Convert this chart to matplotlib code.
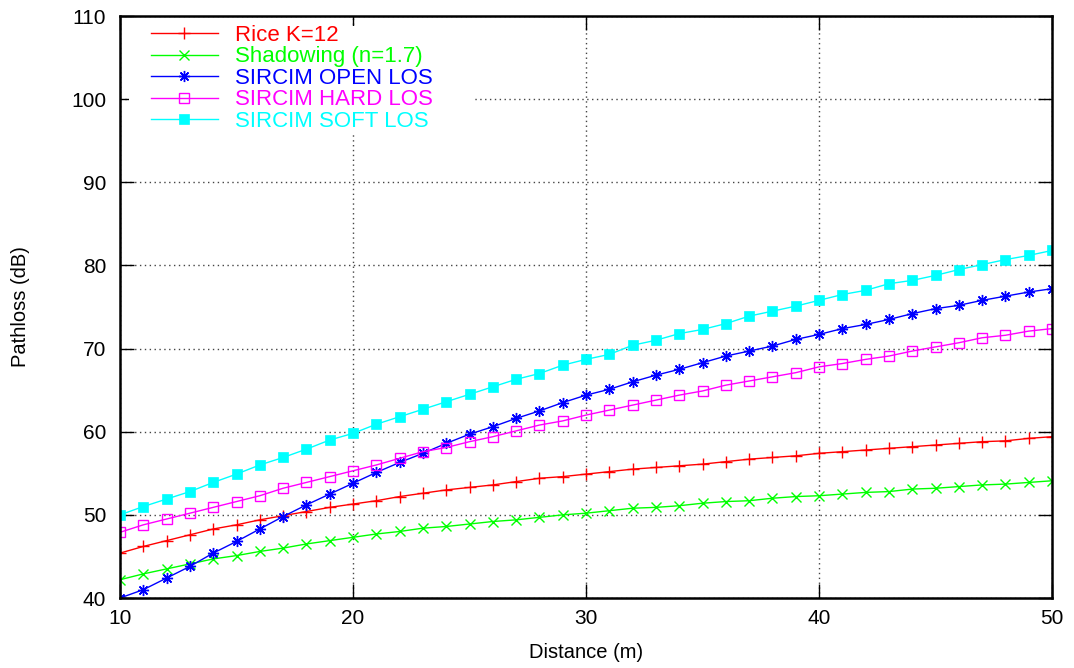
import numpy as np
import matplotlib
matplotlib.use('Agg')
import matplotlib.pyplot as plt
from matplotlib.patches import Rectangle

plt.rcParams['font.family'] = ['Liberation Sans', 'DejaVu Sans']

# distance (m)
distance = list(range(10, 51))

# pathloss values (dB)
rice_k12 = [45.4, 46.2, 46.9, 47.6, 48.3, 48.8, 49.4, 49.9, 50.4, 50.9,
            51.3, 51.7, 52.2, 52.6, 53.0, 53.3, 53.6, 54.0, 54.4, 54.6,
            54.9, 55.2, 55.5, 55.7, 55.9, 56.1, 56.4, 56.7, 56.9, 57.1,
            57.4, 57.6, 57.8, 58.0, 58.2, 58.4, 58.6, 58.8, 58.9, 59.2, 59.4]
shadowing = [42.2, 42.9, 43.5, 44.1, 44.7, 45.1, 45.6, 46.0, 46.5, 46.9,
             47.3, 47.7, 48.0, 48.4, 48.6, 48.9, 49.2, 49.4, 49.7, 50.0,
             50.2, 50.5, 50.8, 50.9, 51.1, 51.4, 51.6, 51.7, 52.0, 52.2,
             52.3, 52.5, 52.7, 52.8, 53.1, 53.2, 53.4, 53.6, 53.7, 53.9, 54.1]
sircim_open = [40.0, 41.0, 42.4, 43.8, 45.4, 46.8, 48.3, 49.8, 51.2, 52.5,
               53.8, 55.1, 56.3, 57.4, 58.6, 59.7, 60.6, 61.6, 62.5, 63.5,
               64.4, 65.1, 66.0, 66.8, 67.5, 68.3, 69.1, 69.7, 70.3, 71.1,
               71.7, 72.4, 72.9, 73.5, 74.2, 74.8, 75.2, 75.8, 76.3, 76.8, 77.2]
sircim_hard = [47.9, 48.8, 49.5, 50.2, 50.9, 51.6, 52.3, 53.2, 53.9, 54.6,
               55.3, 56.0, 56.8, 57.6, 58.1, 58.8, 59.4, 60.1, 60.8, 61.3,
               62.0, 62.6, 63.2, 63.8, 64.4, 64.9, 65.6, 66.1, 66.6, 67.1,
               67.8, 68.2, 68.7, 69.1, 69.7, 70.2, 70.7, 71.3, 71.6, 72.1, 72.4]
sircim_soft = [50.0, 51.0, 51.9, 52.8, 53.9, 54.9, 56.0, 56.9, 57.9, 59.0,
               59.8, 60.9, 61.8, 62.7, 63.6, 64.5, 65.4, 66.3, 67.0, 68.0,
               68.7, 69.3, 70.4, 71.0, 71.8, 72.3, 73.0, 73.9, 74.5, 75.1,
               75.8, 76.5, 77.0, 77.8, 78.2, 78.8, 79.5, 80.1, 80.7, 81.2, 81.8]

labels = ['Rice K=12', 'Shadowing (n=1.7)', 'SIRCIM OPEN LOS',
          'SIRCIM HARD LOS', 'SIRCIM SOFT LOS']
colors = ['#ff0000', '#00ff00', '#0000ff', '#ff00ff', '#00ffff']

xticks = [10, 20, 30, 40, 50]
yticks = [40, 50, 60, 70, 80, 90, 100, 110]

fig = plt.figure(figsize=(10.74, 6.68), dpi=100)
ax = fig.add_axes([120 / 1074, 1 - 598 / 668, 932 / 1074, 582 / 668])

series = [rice_k12, shadowing, sircim_open, sircim_hard, sircim_soft]
styles = [
    dict(marker='+', ms=8, mew=1.0),
    dict(marker='x', ms=7, mew=1.0),
    dict(marker=(8, 2, 0), ms=8, mew=1.0),
    dict(marker='s', ms=6.8, mew=1.0, mfc='none'),
    dict(marker='s', ms=6.5, mew=0.5),
]
handles = []
for y, lab, c, st in zip(series, labels, colors, styles):
    h, = ax.plot(distance, y, color=c, lw=1.0, label=lab, **st)
    handles.append(h)

ax.set_xlim(10, 50)
ax.set_ylim(40, 110)
ax.set_xticks(xticks)
ax.set_yticks(yticks)
ax.tick_params(direction='in', length=10, width=1, top=True, right=True,
               labelsize=15, colors='black')
ax.tick_params(axis='x', pad=8)
ax.tick_params(axis='y', pad=10)
ax.set_axisbelow(True)
ax.grid(True, color='#444444', linestyle=(0, (1, 2.5)), linewidth=1.0)
for sp in ax.spines.values():
    sp.set_linewidth(1.8)
    sp.set_zorder(3)

ax.set_xlabel('Distance (m)', fontsize=14.5)
ax.set_ylabel('Pathloss (dB)', fontsize=14.5)
ax.xaxis.set_label_coords(0.5, -(652 - 598) / 582)
ax.yaxis.set_label_coords(-(120 - 21) / 932, 0.5)
ax.xaxis.label.set_va('center')
ax.yaxis.label.set_va('center')

# white key box, gnuplot style
ax.add_patch(Rectangle((9 / 932, (598 - 133) / 582), (475 - 129) / 932,
                       (133 - 26) / 582, transform=ax.transAxes,
                       facecolor='white', edgecolor='none', zorder=1.6))

leg = ax.legend(handles=handles, loc='upper left', frameon=False,
                bbox_to_anchor=(31 / 932, (598 - 25) / 582), borderpad=0,
                borderaxespad=0, handlelength=3.0, handletextpad=0.77,
                labelspacing=0.02, fontsize=16)
for t, c in zip(leg.get_texts(), colors):
    t.set_color(c)
leg.set_zorder(5)

fig.savefig('out.png', dpi=100)
